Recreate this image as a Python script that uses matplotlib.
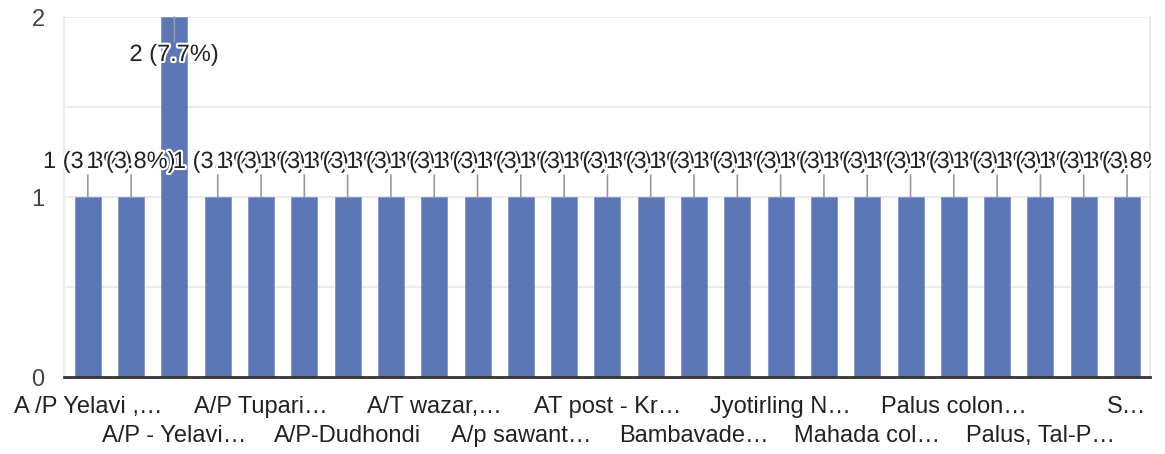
import matplotlib
matplotlib.use("Agg")
import matplotlib.pyplot as plt
import matplotlib.patheffects as pe
from matplotlib.patches import Rectangle

# ---- data ----
# 25 answers (sorted alphabetically); only every other name is visible in the chart,
# the unreadable ones are left blank.
categories = [
    "A /P Yelavi ,…", "", "A/P - Yelavi…", "", "A/P Tupari…", "",
    "A/P-Dudhondi", "", "A/T wazar,…", "", "A/p sawant…", "",
    "AT post - Kr…", "", "Bambavade…", "", "Jyotirling N…", "",
    "Mahada col…", "", "Palus colon…", "", "Palus, Tal-P…", "", "S…",
]
values = [1, 1, 2, 1, 1, 1, 1, 1, 1, 1, 1, 1, 1,
          1, 1, 1, 1, 1, 1, 1, 1, 1, 1, 1, 1]
y_ticks = [0, 1, 2]
y_grid = [0.5, 1.0, 1.5, 2.0]

BAR = "#5c77b6"
FONT = "Liberation Sans"
FS = 17

plt.rcParams["font.family"] = [FONT, "DejaVu Sans"]

fig = plt.figure(figsize=(11.65, 4.54), dpi=100)
ax = fig.add_axes([64 / 1165, 77 / 454, (1150 - 64) / 1165, (377 - 17) / 454])

x = list(range(len(values)))
ax.bar(x, values, width=0.6, color=BAR, edgecolor="#7f93c7", linewidth=0.6, zorder=2)

ax.set_xlim(-0.55, len(values) - 1 + 0.53)
ax.set_ylim(0, max(y_ticks))

for g in y_grid:
    ax.axhline(g, color="#ebebeb", lw=1.5, zorder=1)

ax.set_yticks(y_ticks)
ax.set_yticklabels([str(t) for t in y_ticks], fontsize=FS, color="#444444")
ax.tick_params(axis="y", length=0, pad=14)

shown = [i for i in x if categories[i]]
labels = []
for k, i in enumerate(shown):
    labels.append(categories[i] if k % 2 == 0 else "\n" + categories[i])
ax.set_xticks(shown)
ax.set_xticklabels(labels, fontsize=FS, color="#222222", linespacing=1.38)
ax.tick_params(axis="x", length=0, pad=14)

for s in ["left", "right"]:
    ax.spines[s].set_color("#ebebeb")
    ax.spines[s].set_linewidth(1.5)
ax.spines["top"].set_visible(False)
ax.spines["bottom"].set_color("#333333")
ax.spines["bottom"].set_linewidth(2)
ax.spines["bottom"].set_zorder(3)

# clip value labels at the right edge of the plot area (as in the reference)
clip = Rectangle((0, 0), 1151 / 1165, 1, transform=fig.transFigure,
                 facecolor="none", edgecolor="none")
fig.add_artist(clip)
clip.set_visible(False)

total = sum(values)
ymax = max(y_ticks)
halo = [pe.withStroke(linewidth=3, foreground="white")]
for i, v in zip(x, values):
    txt = f"{v} ({v / total * 100:.1f}%)"
    if v >= ymax:
        line_dy, text_dy = -25 * 0.72, -38 * 0.72
    else:
        line_dy, text_dy = 22 * 0.72, 35 * 0.72
    ax.annotate("", xy=(i, v), xytext=(0, line_dy), textcoords="offset points",
                arrowprops=dict(arrowstyle="-", color="#999999", lw=1.2,
                                shrinkA=0, shrinkB=0),
                zorder=4, annotation_clip=False)
    t = ax.annotate(txt, xy=(i, v), xytext=(0, text_dy), textcoords="offset points",
                    ha="center", va="center", fontsize=FS, color="#222222",
                    path_effects=halo, zorder=5, annotation_clip=False)
    t.set_clip_path(clip)

fig.savefig("out.png", dpi=100, facecolor="white")
